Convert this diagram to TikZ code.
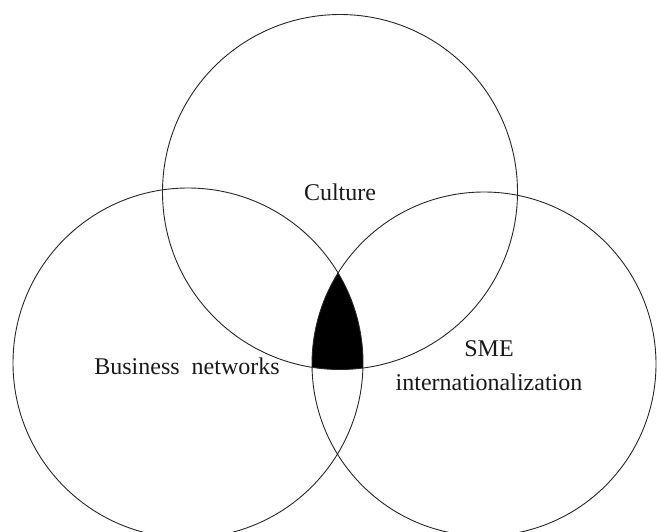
\documentclass[tikz,border=0pt]{standalone}
\usepackage{fontspec}
\setmainfont{Liberation Serif}
\begin{document}
\begin{tikzpicture}[x=1pt,y=-1pt,
  ring/.style={draw=black!85, line width=0.9pt},
  lbl/.style={font=\fontsize{24}{34}\selectfont, text=black!90, inner sep=0pt, align=center}]
\useasboundingbox (0,0) rectangle (657,531);
% circle centres
\coordinate (cT) at (340,192);
\coordinate (cL) at (188,363);
\coordinate (cR) at (484,364);
% common region of the three sets
\begin{scope}
  \clip (cL) circle (175);
  \clip (cR) circle (172);
  \fill[black] (cT) circle (177.5);
\end{scope}
% the three sets
\draw[ring] (cT) circle (177.5);
\draw[ring] (cL) circle (175);
\draw[ring] (cR) circle (172);
% labels
\node[lbl] (culture) at (340,192) {Culture};
\node[lbl] (business) at (187,366) {Business\ \ networks};
\node[lbl] (sme) at (489,366) {SME\\internationalization};
\end{tikzpicture}
\end{document}
